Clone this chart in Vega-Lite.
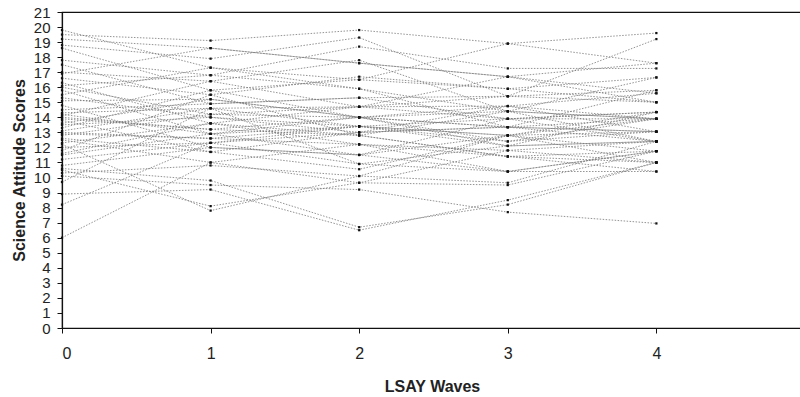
{
  "$schema": "https://vega.github.io/schema/vega-lite/v6.json",
  "width": 740,
  "height": 316,
  "autosize": {"type": "none"},
  "padding": {"left": 62, "top": 12, "right": 0, "bottom": 69},
  "background": "white",
  "config": {
    "view": {"stroke": "#111", "strokeWidth": 1.2},
    "axis": {
      "labelFont": "Liberation Sans",
      "titleFont": "Liberation Sans",
      "labelFontSize": 16,
      "titleFontSize": 16,
      "titleFontWeight": "bold",
      "labelColor": "#222",
      "titleColor": "#222",
      "domainColor": "#111",
      "tickColor": "#111",
      "grid": false,
      "labelOverlap": false,
      "format": "d"
    }
  },
  "data": {"values": [
      {"id":1,"w":0,"s":19.8},{"id":1,"w":1,"s":17.3},{"id":1,"w":2,"s":16.5},{"id":1,"w":3,"s":18.9},{"id":1,"w":4,"s":19.6},
      {"id":2,"w":0,"s":19.5},{"id":2,"w":1,"s":19.1},{"id":2,"w":2,"s":19.8},{"id":2,"w":3,"s":18.9},{"id":2,"w":4,"s":17.6},
      {"id":3,"w":0,"s":19.2},{"id":3,"w":1,"s":18.6},{"id":3,"w":2,"s":17.6},{"id":3,"w":3,"s":16.7},{"id":3,"w":4,"s":15.0},
      {"id":4,"w":0,"s":18.8},{"id":4,"w":1,"s":17.9},{"id":4,"w":2,"s":19.3},{"id":4,"w":3,"s":15.4},{"id":4,"w":4,"s":19.2},
      {"id":5,"w":0,"s":18.6},{"id":5,"w":1,"s":15.8},{"id":5,"w":2,"s":14.0},{"id":5,"w":3,"s":12.4},{"id":5,"w":4,"s":13.9},
      {"id":6,"w":0,"s":17.8},{"id":6,"w":1,"s":16.8},{"id":6,"w":2,"s":18.7},{"id":6,"w":3,"s":17.25},{"id":6,"w":4,"s":17.25},
      {"id":7,"w":0,"s":17.5},{"id":7,"w":1,"s":14.9},{"id":7,"w":2,"s":15.3},{"id":7,"w":3,"s":13.9},{"id":7,"w":4,"s":14.35},
      {"id":8,"w":0,"s":17.0},{"id":8,"w":1,"s":16.4},{"id":8,"w":2,"s":17.8},{"id":8,"w":3,"s":14.4},{"id":8,"w":4,"s":12.4},
      {"id":9,"w":0,"s":16.6},{"id":9,"w":1,"s":15.5},{"id":9,"w":2,"s":16.7},{"id":9,"w":3,"s":15.9},{"id":9,"w":4,"s":16.65},
      {"id":10,"w":0,"s":16.3},{"id":10,"w":1,"s":13.6},{"id":10,"w":2,"s":12.8},{"id":10,"w":3,"s":11.4},{"id":10,"w":4,"s":11.0},
      {"id":11,"w":0,"s":16.0},{"id":11,"w":1,"s":14.2},{"id":11,"w":2,"s":14.7},{"id":11,"w":3,"s":15.4},{"id":11,"w":4,"s":15.8},
      {"id":12,"w":0,"s":15.8},{"id":12,"w":1,"s":12.9},{"id":12,"w":2,"s":13.4},{"id":12,"w":3,"s":12.8},{"id":12,"w":4,"s":11.75},
      {"id":13,"w":0,"s":15.5},{"id":13,"w":1,"s":17.3},{"id":13,"w":2,"s":15.9},{"id":13,"w":3,"s":13.35},{"id":13,"w":4,"s":13.05},
      {"id":14,"w":0,"s":15.1},{"id":14,"w":1,"s":15.2},{"id":14,"w":2,"s":14.0},{"id":14,"w":3,"s":14.75},{"id":14,"w":4,"s":15.6},
      {"id":15,"w":0,"s":14.8},{"id":15,"w":1,"s":12.0},{"id":15,"w":2,"s":11.5},{"id":15,"w":3,"s":10.4},{"id":15,"w":4,"s":10.4},
      {"id":16,"w":0,"s":14.3},{"id":16,"w":1,"s":14.6},{"id":16,"w":2,"s":13.4},{"id":16,"w":3,"s":13.9},{"id":16,"w":4,"s":13.9},
      {"id":17,"w":0,"s":14.1},{"id":17,"w":1,"s":16.4},{"id":17,"w":2,"s":14.7},{"id":17,"w":3,"s":16.7},{"id":17,"w":4,"s":17.6},
      {"id":18,"w":0,"s":14.0},{"id":18,"w":1,"s":13.2},{"id":18,"w":2,"s":14.0},{"id":18,"w":3,"s":12.1},{"id":18,"w":4,"s":12.4},
      {"id":19,"w":0,"s":13.8},{"id":19,"w":1,"s":11.7},{"id":19,"w":2,"s":10.55},{"id":19,"w":3,"s":12.8},{"id":19,"w":4,"s":14.35},
      {"id":20,"w":0,"s":13.5},{"id":20,"w":1,"s":14.0},{"id":20,"w":2,"s":13.0},{"id":20,"w":3,"s":13.35},{"id":20,"w":4,"s":13.05},
      {"id":21,"w":0,"s":13.3},{"id":21,"w":1,"s":15.8},{"id":21,"w":2,"s":16.5},{"id":21,"w":3,"s":15.9},{"id":21,"w":4,"s":15.0},
      {"id":22,"w":0,"s":13.0},{"id":22,"w":1,"s":12.6},{"id":22,"w":2,"s":12.2},{"id":22,"w":3,"s":11.8},{"id":22,"w":4,"s":11.0},
      {"id":23,"w":0,"s":12.8},{"id":23,"w":1,"s":14.2},{"id":23,"w":2,"s":14.0},{"id":23,"w":3,"s":14.4},{"id":23,"w":4,"s":13.9},
      {"id":24,"w":0,"s":12.5},{"id":24,"w":1,"s":11.0},{"id":24,"w":2,"s":9.65},{"id":24,"w":3,"s":9.5},{"id":24,"w":4,"s":11.75},
      {"id":25,"w":0,"s":12.3},{"id":25,"w":1,"s":13.6},{"id":25,"w":2,"s":14.7},{"id":25,"w":3,"s":13.9},{"id":25,"w":4,"s":12.4},
      {"id":26,"w":0,"s":12.0},{"id":26,"w":1,"s":12.3},{"id":26,"w":2,"s":13.4},{"id":26,"w":3,"s":12.4},{"id":26,"w":4,"s":13.05},
      {"id":27,"w":0,"s":11.8},{"id":27,"w":1,"s":15.5},{"id":27,"w":2,"s":12.8},{"id":27,"w":3,"s":11.4},{"id":27,"w":4,"s":11.75},
      {"id":28,"w":0,"s":11.5},{"id":28,"w":1,"s":12.9},{"id":28,"w":2,"s":14.0},{"id":28,"w":3,"s":13.35},{"id":28,"w":4,"s":15.8},
      {"id":29,"w":0,"s":10.8},{"id":29,"w":1,"s":12.0},{"id":29,"w":2,"s":11.5},{"id":29,"w":3,"s":12.8},{"id":29,"w":4,"s":13.9},
      {"id":30,"w":0,"s":10.6},{"id":30,"w":1,"s":9.8},{"id":30,"w":2,"s":6.7},{"id":30,"w":3,"s":8.2},{"id":30,"w":4,"s":11.0},
      {"id":31,"w":0,"s":10.3},{"id":31,"w":1,"s":10.8},{"id":31,"w":2,"s":10.1},{"id":31,"w":3,"s":9.65},{"id":31,"w":4,"s":12.4},
      {"id":32,"w":0,"s":10.1},{"id":32,"w":1,"s":9.5},{"id":32,"w":2,"s":9.2},{"id":32,"w":3,"s":7.7},{"id":32,"w":4,"s":6.95},
      {"id":33,"w":0,"s":9.7},{"id":33,"w":1,"s":14.6},{"id":33,"w":2,"s":10.9},{"id":33,"w":3,"s":12.1},{"id":33,"w":4,"s":14.35},
      {"id":34,"w":0,"s":8.9},{"id":34,"w":1,"s":9.2},{"id":34,"w":2,"s":6.5},{"id":34,"w":3,"s":8.5},{"id":34,"w":4,"s":11.0},
      {"id":35,"w":0,"s":8.2},{"id":35,"w":1,"s":12.3},{"id":35,"w":2,"s":13.0},{"id":35,"w":3,"s":14.75},{"id":35,"w":4,"s":13.05},
      {"id":36,"w":0,"s":6.0},{"id":36,"w":1,"s":11.0},{"id":36,"w":2,"s":12.2},{"id":36,"w":3,"s":10.4},{"id":36,"w":4,"s":11.75},
      {"id":37,"w":0,"s":10.5},{"id":37,"w":1,"s":8.1},{"id":37,"w":2,"s":9.65},{"id":37,"w":3,"s":11.8},{"id":37,"w":4,"s":12.4},
      {"id":38,"w":0,"s":12.2},{"id":38,"w":1,"s":7.8},{"id":38,"w":2,"s":10.1},{"id":38,"w":3,"s":12.8},{"id":38,"w":4,"s":11.0},
      {"id":39,"w":0,"s":16.9},{"id":39,"w":1,"s":18.6},{"id":39,"w":2,"s":17.6},{"id":39,"w":3,"s":16.7},{"id":39,"w":4,"s":15.6},
      {"id":40,"w":0,"s":13.9},{"id":40,"w":1,"s":13.2},{"id":40,"w":2,"s":12.8},{"id":40,"w":3,"s":14.4},{"id":40,"w":4,"s":16.65},
      {"id":41,"w":0,"s":14.5},{"id":41,"w":1,"s":14.9},{"id":41,"w":2,"s":15.3},{"id":41,"w":3,"s":15.4},{"id":41,"w":4,"s":15.0},
      {"id":42,"w":0,"s":12.9},{"id":42,"w":1,"s":12.6},{"id":42,"w":2,"s":13.4},{"id":42,"w":3,"s":12.1},{"id":42,"w":4,"s":12.4},
      {"id":43,"w":0,"s":13.6},{"id":43,"w":1,"s":15.2},{"id":43,"w":2,"s":14.0},{"id":43,"w":3,"s":13.35},{"id":43,"w":4,"s":13.9},
      {"id":44,"w":0,"s":11.6},{"id":44,"w":1,"s":13.6},{"id":44,"w":2,"s":12.2},{"id":44,"w":3,"s":11.4},{"id":44,"w":4,"s":10.4},
      {"id":45,"w":0,"s":15.3},{"id":45,"w":1,"s":14.0},{"id":45,"w":2,"s":13.4},{"id":45,"w":3,"s":12.8},{"id":45,"w":4,"s":13.05},
      {"id":46,"w":0,"s":14.2},{"id":46,"w":1,"s":12.9},{"id":46,"w":2,"s":11.5},{"id":46,"w":3,"s":13.9},{"id":46,"w":4,"s":14.35},
      {"id":47,"w":0,"s":13.1},{"id":47,"w":1,"s":14.6},{"id":47,"w":2,"s":14.7},{"id":47,"w":3,"s":14.75},{"id":47,"w":4,"s":13.9},
      {"id":48,"w":0,"s":12.6},{"id":48,"w":1,"s":11.7},{"id":48,"w":2,"s":13.0},{"id":48,"w":3,"s":13.35},{"id":48,"w":4,"s":12.4},
      {"id":49,"w":0,"s":16.1},{"id":49,"w":1,"s":16.8},{"id":49,"w":2,"s":15.9},{"id":49,"w":3,"s":14.4},{"id":49,"w":4,"s":13.9},
      {"id":50,"w":0,"s":11.2},{"id":50,"w":1,"s":12.3},{"id":50,"w":2,"s":10.9},{"id":50,"w":3,"s":10.4},{"id":50,"w":4,"s":11.75}
  ]},
  "encoding": {
    "x": {
      "field": "w", "type": "quantitative",
      "scale": {"domain": [0, 4.98], "nice": false},
      "axis": {"values": [0, 1, 2, 3, 4], "title": "LSAY Waves", "tickSize": 5, "labelPadding": 12, "titlePadding": 17, "domainWidth": 1.2, "labelOverlap": false, "labelFontSize": 16}
    },
    "y": {
      "field": "s", "type": "quantitative",
      "scale": {"domain": [0, 21], "nice": false},
      "axis": {"values": [0,1,2,3,4,5,6,7,8,9,10,11,12,13,14,15,16,17,18,19,20,21], "title": "Science Attitude Scores", "tickSize": 5, "labelPadding": 7, "titlePadding": 6, "labelBaseline": "middle", "domainWidth": 1.2, "labelOverlap": false, "labelFontSize": 15, "labelBound": false}
    }
  },
  "layer": [
    {
      "mark": {"type": "line", "color": "#777", "strokeWidth": 0.8, "strokeDash": [1.5, 1.5]},
      "encoding": {
        "detail": {"field": "id", "type": "nominal"}
      }
    },
    {
      "mark": {"type": "square", "color": "#111", "size": 5, "opacity": 1}
    }
  ]
}
